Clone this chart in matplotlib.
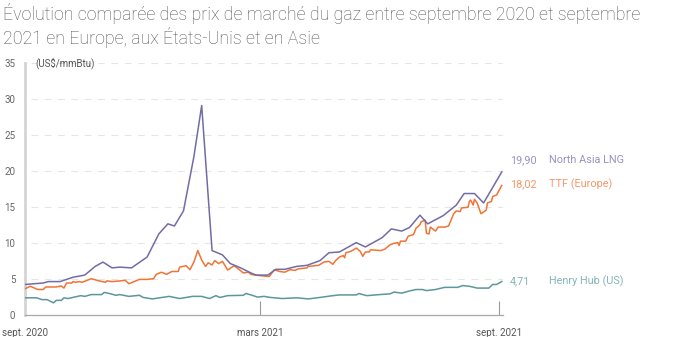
import matplotlib
matplotlib.use("Agg")
import matplotlib.pyplot as plt
import matplotlib.dates as mdates
import pandas as pd

plt.rcParams['font.family'] = ['Roboto', 'DejaVu Sans']

title = "Évolution comparée des prix de marché du gaz entre septembre 2020 et septembre\n2021 en Europe, aux États-Unis et en Asie"
unit_label = "(US$/mmBtu)"

lng_dates = ["2020-09-01", "2020-09-15", "2020-09-19", "2020-09-28", "2020-10-08", "2020-10-17",
             "2020-10-25", "2020-10-31", "2020-11-07", "2020-11-13", "2020-11-22", "2020-12-04",
             "2020-12-13", "2020-12-20", "2020-12-25", "2021-01-01", "2021-01-09", "2021-01-15",
             "2021-01-23", "2021-01-31", "2021-02-06", "2021-02-14", "2021-02-23", "2021-02-26",
             "2021-03-07", "2021-03-13", "2021-03-20", "2021-03-29", "2021-04-06", "2021-04-16",
             "2021-04-23", "2021-05-01", "2021-05-14", "2021-05-21", "2021-06-03", "2021-06-10",
             "2021-06-18", "2021-06-24", "2021-07-02", "2021-07-08", "2021-07-20", "2021-07-30",
             "2021-08-05", "2021-08-13", "2021-08-20", "2021-09-03"]
lng_values = [4.3, 4.5, 4.7, 4.7, 5.3, 5.6,
              6.8, 7.4, 6.6, 6.7, 6.6, 8.1,
              11.3, 12.7, 12.4, 14.5, 22.0, 29.1,
              9.0, 8.4, 7.2, 6.6, 5.8, 5.6,
              5.6, 6.4, 6.4, 6.8, 6.95, 7.6,
              8.7, 8.8, 10.1, 9.5, 10.8, 12.0,
              11.7, 12.2, 13.9, 12.7, 13.85, 15.3,
              16.9, 16.9, 15.6, 19.90]

ttf_dates = ["2020-09-01", "2020-09-05", "2020-09-11", "2020-09-15", "2020-09-17", "2020-09-25",
             "2020-09-29", "2020-10-01", "2020-10-03", "2020-10-07", "2020-10-08", "2020-10-10",
             "2020-10-13", "2020-10-15", "2020-10-22", "2020-10-28", "2020-11-02", "2020-11-03",
             "2020-11-07", "2020-11-14", "2020-11-17", "2020-11-20", "2020-11-28", "2020-12-04",
             "2020-12-09", "2020-12-11", "2020-12-15", "2020-12-19", "2020-12-23", "2020-12-28",
             "2020-12-29", "2021-01-03", "2021-01-06", "2021-01-09", "2021-01-12", "2021-01-15",
             "2021-01-18", "2021-01-20", "2021-01-23", "2021-01-25", "2021-01-28", "2021-01-31",
             "2021-02-04", "2021-02-09", "2021-02-13", "2021-02-16", "2021-02-20", "2021-02-22",
             "2021-02-25", "2021-03-08", "2021-03-12", "2021-03-16", "2021-03-20", "2021-03-24",
             "2021-03-28", "2021-03-30", "2021-04-06", "2021-04-07", "2021-04-15", "2021-04-19",
             "2021-04-23", "2021-04-26", "2021-04-28", "2021-05-01", "2021-05-04", "2021-05-05",
             "2021-05-06", "2021-05-10", "2021-05-14", "2021-05-17", "2021-05-19", "2021-05-21",
             "2021-05-24", "2021-05-25", "2021-06-02", "2021-06-05", "2021-06-09", "2021-06-12",
             "2021-06-15", "2021-06-16", "2021-06-17", "2021-06-21", "2021-06-23", "2021-06-27",
             "2021-06-29", "2021-07-01", "2021-07-02", "2021-07-03", "2021-07-06", "2021-07-07",
             "2021-07-09", "2021-07-10", "2021-07-14", "2021-07-16", "2021-07-21", "2021-07-24",
             "2021-07-28", "2021-07-30", "2021-08-02", "2021-08-03", "2021-08-08", "2021-08-09",
             "2021-08-10", "2021-08-12", "2021-08-13", "2021-08-15", "2021-08-18", "2021-08-22",
             "2021-08-23", "2021-08-26", "2021-08-27", "2021-08-30", "2021-09-03"]
ttf_values = [3.7, 4.05, 3.6, 3.6, 3.95, 3.95,
              4.1, 3.8, 4.5, 4.5, 4.7, 4.6,
              4.7, 4.6, 5.1, 4.8, 4.6, 4.8,
              4.7, 4.8, 4.9, 4.4, 5.0, 5.0,
              5.1, 5.7, 6.0, 5.7, 6.1, 6.1,
              6.7, 6.9, 6.35, 7.4, 9.0, 7.7,
              6.8, 7.3, 7.0, 7.6, 7.2, 7.5,
              6.3, 6.9, 6.35, 5.9, 6.0, 5.7,
              5.6, 5.4, 6.35, 6.1, 6.0, 6.35,
              6.25, 6.45, 6.6, 6.8, 6.95, 7.4,
              7.5, 7.1, 7.6, 8.1, 8.3, 8.0,
              8.7, 8.9, 9.35, 8.9, 8.2, 8.8,
              8.8, 9.1, 9.0, 9.2, 9.8, 10.0,
              10.1, 9.7, 10.3, 10.3, 11.0, 11.2,
              12.1, 12.4, 12.6, 13.0, 13.2, 11.4,
              11.3, 12.25, 11.7, 12.25, 12.25, 12.4,
              14.1, 14.5, 14.4, 14.9, 15.0, 15.8,
              16.0, 15.3, 16.1, 15.6, 14.1, 14.6,
              15.6, 15.8, 16.5, 16.7, 18.02]

hh_dates = ["2020-09-01", "2020-09-10", "2020-09-14", "2020-09-18", "2020-09-23", "2020-09-25",
            "2020-09-29", "2020-10-01", "2020-10-04", "2020-10-14", "2020-10-17", "2020-10-22",
            "2020-10-30", "2020-11-01", "2020-11-05", "2020-11-10", "2020-11-13", "2020-11-20",
            "2020-11-28", "2020-12-01", "2020-12-08", "2020-12-21", "2020-12-29", "2021-01-08",
            "2021-01-15", "2021-01-21", "2021-01-26", "2021-01-29", "2021-02-04", "2021-02-16",
            "2021-02-18", "2021-02-22", "2021-02-27", "2021-03-04", "2021-03-09", "2021-03-18",
            "2021-03-29", "2021-04-07", "2021-04-16", "2021-04-26", "2021-05-01", "2021-05-14",
            "2021-05-16", "2021-05-22", "2021-06-01", "2021-06-09", "2021-06-12", "2021-06-18",
            "2021-06-24", "2021-06-29", "2021-07-04", "2021-07-07", "2021-07-14", "2021-07-21",
            "2021-07-31", "2021-08-04", "2021-08-09", "2021-08-15", "2021-08-24", "2021-08-27",
            "2021-08-30", "2021-09-03"]
hh_values = [2.45, 2.45, 2.2, 2.2, 1.75, 2.1,
             2.1, 2.45, 2.35, 2.75, 2.65, 2.9,
             2.9, 3.2, 3.05, 2.8, 2.9, 2.65,
             2.8, 2.5, 2.3, 2.65, 2.35, 2.65,
             2.65, 2.35, 2.75, 2.5, 2.75, 2.8,
             3.05, 2.85, 2.55, 2.65, 2.5, 2.35,
             2.45, 2.3, 2.5, 2.75, 2.85, 2.85,
             3.05, 2.75, 2.9, 3.0, 3.25, 3.1,
             3.4, 3.6, 3.6, 3.45, 3.6, 3.9,
             3.9, 4.15, 4.05, 3.8, 3.8, 4.3,
             4.3, 4.71]

series_names = ["North Asia LNG", "TTF (Europe)", "Henry Hub (US)"]
value_labels = ["19,90", "18,02", "4,71"]
yticks = [0, 5, 10, 15, 20, 25, 30, 35]
xtick_dates = ["2020-09-01", "2021-03-01", "2021-09-01"]
xtick_labels = ["sept. 2020", "mars 2021", "sept. 2021"]

c_lng = "#716ca6"
c_ttf = "#f07434"
c_hh = "#5b979b"
c_lng_l = "#9893c2"
c_ttf_l = "#f4986a"
c_hh_l = "#86b5b8"

fig = plt.figure(figsize=(7, 3.37), dpi=100)
ax = fig.add_axes([0.0357, 0.0638, 0.683, 0.7495])

ax.plot(pd.to_datetime(hh_dates), hh_values, color=c_hh, lw=1.1, zorder=3)
ax.plot(pd.to_datetime(ttf_dates), ttf_values, color=c_ttf, lw=1.1, zorder=4)
ax.plot(pd.to_datetime(lng_dates), lng_values, color=c_lng, lw=1.1, zorder=5)

ax.set_ylim(0, 35)
ax.set_xlim(pd.Timestamp("2020-09-01"), pd.Timestamp("2021-09-04"))
ax.set_yticks(yticks)
ax.set_yticklabels([str(v) for v in yticks], fontsize=7, color="#666666")
for v in yticks[1:]:
    ax.axhline(v, color="#e6e6e6", lw=0.8, ls=(0, (6, 6)), zorder=1,
               xmin=0.012, xmax=1.0)
ax.tick_params(axis="y", length=0, pad=7)

ax.set_xticks(pd.to_datetime(xtick_dates))
ax.set_xticklabels(xtick_labels, fontsize=7, color="#555555")
ax.tick_params(axis="x", direction="in", length=10, width=0.8, color="#999999", pad=9)
ax.xaxis.get_major_ticks()[0].tick1line.set_visible(False)

for s in ["top", "right"]:
    ax.spines[s].set_visible(False)
ax.spines["left"].set_color("#d4d4d4")
ax.spines["left"].set_linewidth(2)
ax.spines["bottom"].set_color("#a8a8a8")
ax.spines["bottom"].set_linewidth(0.9)

ax.text(0.022, 35, unit_label, transform=ax.get_yaxis_transform(), fontsize=7,
        color="#555555", va="center", ha="left")

last_vals = [lng_values[-1], ttf_values[-1], hh_values[-1]]
offsets = [1.6, 0.2, 0.0]
colors_l = [c_lng_l, c_ttf_l, c_hh_l]
for v, off, lab, name, col in zip(last_vals, offsets, value_labels, series_names, colors_l):
    ax.annotate(lab, xy=(1.0, v + off), xycoords=ax.get_yaxis_transform(),
                xytext=(7, 0), textcoords="offset pixels", fontsize=7.8,
                color=col, va="center", ha="left", annotation_clip=False)
    ax.annotate(name, xy=(1.0, v + off), xycoords=ax.get_yaxis_transform(),
                xytext=(46, 0), textcoords="offset pixels", fontsize=7.8,
                color=col, va="center", ha="left", annotation_clip=False)

fig.text(0.004, 0.99, title, fontsize=12.8, color="#555555", va="top", ha="left",
         fontweight="light", linespacing=1.15)

fig.savefig("out.png", dpi=100)
